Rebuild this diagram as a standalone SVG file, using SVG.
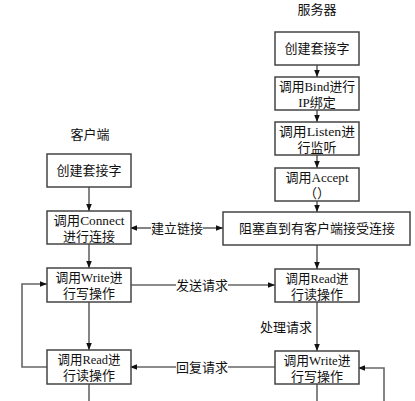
<svg xmlns="http://www.w3.org/2000/svg" width="415" height="401" viewBox="0 0 415 401">
<defs>
<style>
text{font-family:"Liberation Serif","Noto Sans CJK SC",serif;font-size:13px;fill:#111;text-anchor:middle}
.box{fill:#fff;stroke:#444;stroke-width:1.5}
.ln{fill:none;stroke:#666;stroke-width:1.6}
</style>
<marker id="ah" viewBox="0 0 10 10" refX="10" refY="5" markerWidth="7" markerHeight="7" markerUnits="userSpaceOnUse" orient="auto">
<path d="M0,1 L10,5 L0,9 z" fill="#111"/>
</marker>
</defs>
<rect width="415" height="401" fill="#fff"/>
<text x="317" y="14">服务器</text>
<text x="90" y="139">客户端</text>
<g id="connectors">
<line class="ln" x1="317" y1="65" x2="317" y2="77" marker-end="url(#ah)"/>
<line class="ln" x1="317" y1="110" x2="317" y2="122" marker-end="url(#ah)"/>
<line class="ln" x1="317" y1="155" x2="317" y2="168" marker-end="url(#ah)"/>
<line class="ln" x1="317" y1="201" x2="317" y2="212" marker-end="url(#ah)"/>
<line class="ln" x1="317" y1="245" x2="317" y2="269" marker-end="url(#ah)"/>
<line class="ln" x1="317" y1="302" x2="317" y2="351" marker-end="url(#ah)"/>
<line class="ln" x1="317" y1="384" x2="317" y2="401"/>
<polyline class="ln" points="384,401 384,368 358,368" marker-end="url(#ah)"/>
<line class="ln" x1="89" y1="187" x2="89" y2="211" marker-end="url(#ah)"/>
<line class="ln" x1="89" y1="244" x2="89" y2="268" marker-end="url(#ah)"/>
<line class="ln" x1="89" y1="302" x2="89" y2="350" marker-end="url(#ah)"/>
<line class="ln" x1="89" y1="384" x2="89" y2="401"/>
<polyline class="ln" points="47,367 22,367 22,284 47,284" marker-end="url(#ah)"/>
<line class="ln" x1="151" y1="228" x2="130" y2="228" marker-end="url(#ah)"/>
<line class="ln" x1="203" y1="228" x2="223" y2="228" marker-end="url(#ah)"/>
<text x="177" y="233">建立链接</text>
<line class="ln" x1="130" y1="285" x2="176" y2="285"/>
<line class="ln" x1="228" y1="285" x2="275" y2="285" marker-end="url(#ah)"/>
<text x="202" y="290">发送请求</text>
<line class="ln" x1="275" y1="367" x2="228" y2="367"/>
<line class="ln" x1="176" y1="367" x2="130" y2="367" marker-end="url(#ah)"/>
<text x="202" y="372">回复请求</text>
<text x="286" y="332">处理请求</text>
</g>
<g id="s_socket"><rect class="box" x="275" y="32" width="84" height="33"/><text x="317" y="53">创建套接字</text></g>
<g id="s_bind"><rect class="box" x="275" y="77" width="84" height="33"/><text x="317" y="91" textLength="76" lengthAdjust="spacingAndGlyphs">调用Bind进行</text><text x="317" y="107">IP绑定</text></g>
<g id="s_listen"><rect class="box" x="275" y="122" width="84" height="33"/><text x="317" y="136" textLength="76" lengthAdjust="spacingAndGlyphs">调用Listen进</text><text x="317" y="152">行监听</text></g>
<g id="s_accept"><rect class="box" x="275" y="168" width="84" height="33"/><text x="317" y="182" textLength="63" lengthAdjust="spacingAndGlyphs">调用Accept</text><text x="317" y="198">（）</text></g>
<g id="s_block"><rect class="box" x="223" y="212" width="187" height="33"/><text x="317" y="233">阻塞直到有客户端接受连接</text></g>
<g id="s_read"><rect class="box" x="275" y="269" width="84" height="33"/><text x="317" y="283" textLength="63" lengthAdjust="spacingAndGlyphs">调用Read进</text><text x="317" y="299">行读操作</text></g>
<g id="s_write"><rect class="box" x="275" y="351" width="84" height="33"/><text x="317" y="365" textLength="67" lengthAdjust="spacingAndGlyphs">调用Write进</text><text x="317" y="381">行写操作</text></g>
<g id="c_socket"><rect class="box" x="47" y="154" width="84" height="33"/><text x="89" y="175">创建套接字</text></g>
<g id="c_connect"><rect class="box" x="47" y="211" width="84" height="33"/><text x="89" y="225" textLength="71" lengthAdjust="spacingAndGlyphs">调用Connect</text><text x="89" y="241">进行连接</text></g>
<g id="c_write"><rect class="box" x="47" y="268" width="84" height="34"/><text x="89" y="282" textLength="67" lengthAdjust="spacingAndGlyphs">调用Write进</text><text x="89" y="298">行写操作</text></g>
<g id="c_read"><rect class="box" x="47" y="350" width="84" height="34"/><text x="89" y="364" textLength="63" lengthAdjust="spacingAndGlyphs">调用Read进</text><text x="89" y="380">行读操作</text></g>
</svg>
